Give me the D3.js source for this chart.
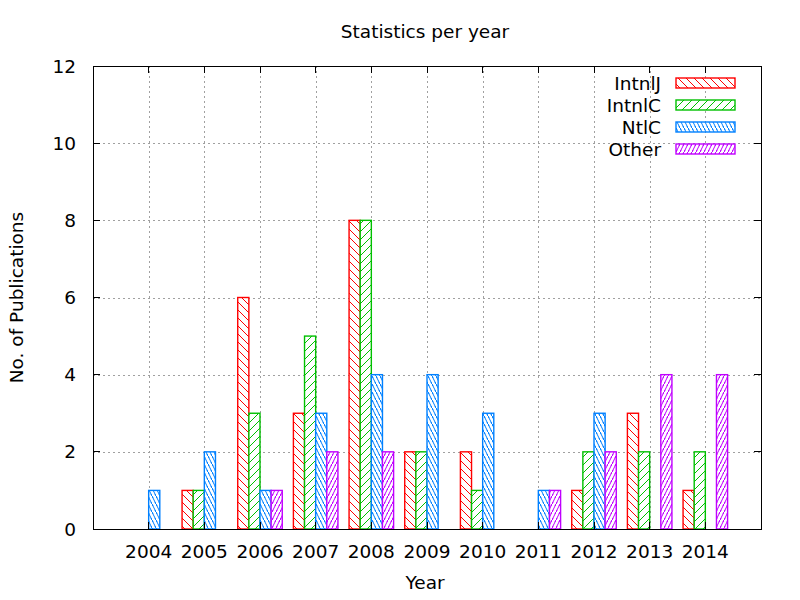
<!DOCTYPE html>
<html>
<head>
<meta charset="utf-8">
<script src="https://cdn.jsdelivr.net/npm/d3@7"></script>
<style>
  body { margin: 0; background: #fff; }
  text { font-family: "DejaVu Sans", sans-serif; fill: #000; font-size: 18.5px; }
</style>
</head>
<body>
<div id="chart"></div>
<script>
// data
const years   = ["2004","2005","2006","2007","2008","2009","2010","2011","2012","2013","2014"];
const series  = ["IntnlJ","IntnlC","NtlC","Other"];
const intnlJ  = [0, 1, 6, 3, 8, 2, 2, 0, 1, 3, 1];
const intnlC  = [0, 1, 3, 5, 8, 2, 1, 0, 2, 2, 2];
const ntlC    = [1, 2, 1, 3, 4, 4, 3, 1, 3, 0, 0];
const other   = [0, 0, 1, 2, 2, 0, 0, 1, 2, 4, 4];
const yTicks  = [0, 2, 4, 6, 8, 10, 12];

const values = [intnlJ, intnlC, ntlC, other];
const colors = ["#ff0000", "#00c000", "#0080ff", "#c000ff"];

const W = 800, H = 600;
const plot = { left: 93, right: 761, top: 66, bottom: 529 };
const tick = 7;
const barW = 0.2;   // 4 bars + gap of 1 bar per cluster

const svg = d3.select("#chart").append("svg")
  .attr("width", W).attr("height", H);

// hatch patterns like gnuplot's fill patterns
const defs = svg.append("defs");
const pats = [
  { w: 8, h: 8, d: "M0,0L8,8M-2,6L2,10M6,-2L10,2" },     // \ 45deg
  { w: 8, h: 8, d: "M0,8L8,0M-2,2L2,-2M6,10L10,6" },     // / 45deg
  { w: 4, h: 8, d: "M0,0L4,8M-1,-2L1,2M3,6L5,10" },      // \ steep
  { w: 4, h: 8, d: "M0,8L4,0M-1,10L1,6M3,2L5,-2" }       // / steep
];
pats.forEach((p, i) => {
  const pat = defs.append("pattern")
    .attr("id", `hatch${i}`)
    .attr("patternUnits", "userSpaceOnUse")
    .attr("width", p.w).attr("height", p.h);
  pat.append("rect").attr("width", p.w).attr("height", p.h).attr("fill", "#fff");
  pat.append("path").attr("d", p.d)
    .attr("stroke", colors[i]).attr("stroke-width", 1).attr("fill", "none");
});

// scales
const x = d3.scaleLinear().domain([-1, 11]).range([plot.left, plot.right]);
const y = d3.scaleLinear().domain([0, 12]).range([plot.bottom, plot.top]);
const xIdx = d3.range(years.length);

// grid
const grid = svg.append("g")
  .attr("stroke", "#a0a0a0").attr("stroke-dasharray", "2,3").attr("stroke-width", 1);
yTicks.filter(t => t > 0 && t < 12).forEach(t => {
  grid.append("line")
    .attr("x1", plot.left).attr("x2", plot.right)
    .attr("y1", Math.round(y(t)) + 0.5).attr("y2", Math.round(y(t)) + 0.5);
});
xIdx.forEach(i => {
  grid.append("line")
    .attr("x1", Math.round(x(i)) + 0.5).attr("x2", Math.round(x(i)) + 0.5)
    .attr("y1", plot.top).attr("y2", plot.bottom);
});

// bars
values.forEach((vals, k) => {
  svg.append("g").selectAll("rect")
    .data(vals.map((v, i) => ({ v, i })).filter(d => d.v > 0))
    .join("rect")
      .attr("x", d => x(d.i + (k - 2) * barW))
      .attr("width", x(barW) - x(0))
      .attr("y", d => y(d.v))
      .attr("height", d => y(0) - y(d.v))
      .attr("fill", `url(#hatch${k})`)
      .attr("stroke", colors[k])
      .attr("stroke-width", 1.4);
});

// border + ticks
const ax = svg.append("g").attr("stroke", "#000").attr("stroke-width", 1)
  .attr("shape-rendering", "crispEdges");
ax.append("rect")
  .attr("x", plot.left).attr("y", plot.top)
  .attr("width", plot.right - plot.left).attr("height", plot.bottom - plot.top)
  .attr("fill", "none");
yTicks.forEach(t => {
  ax.append("line").attr("x1", plot.left).attr("x2", plot.left + tick)
    .attr("y1", y(t)).attr("y2", y(t));
  ax.append("line").attr("x1", plot.right).attr("x2", plot.right - tick)
    .attr("y1", y(t)).attr("y2", y(t));
});
xIdx.forEach(i => {
  ax.append("line").attr("x1", x(i)).attr("x2", x(i))
    .attr("y1", plot.bottom).attr("y2", plot.bottom - tick);
  ax.append("line").attr("x1", x(i)).attr("x2", x(i))
    .attr("y1", plot.top).attr("y2", plot.top + tick);
});

// tick labels
svg.append("g").selectAll("text")
  .data(yTicks).join("text")
    .attr("x", plot.left - 17).attr("y", d => y(d))
    .attr("dy", "0.36em")
    .attr("text-anchor", "end")
    .text(d => d);

svg.append("g").selectAll("text")
  .data(years).join("text")
    .attr("x", (d, i) => x(i)).attr("y", 558)
    .attr("text-anchor", "middle")
    .text(d => d);

// titles
svg.append("text")
  .attr("x", 425).attr("y", 38)
  .attr("text-anchor", "middle")
  .text("Statistics per year");

svg.append("text")
  .attr("x", 425).attr("y", 589)
  .attr("text-anchor", "middle")
  .text("Year");

svg.append("text")
  .attr("transform", `translate(23,${(plot.top + plot.bottom) / 2}) rotate(-90)`)
  .attr("text-anchor", "middle")
  .text("No. of Publications");

// legend
const leg = svg.append("g");
series.forEach((name, k) => {
  const cy = 83 + 22 * k;
  leg.append("text")
    .attr("x", 661).attr("y", cy).attr("dy", "0.36em")
    .attr("text-anchor", "end")
    .text(name);
  leg.append("rect")
    .attr("x", 676).attr("y", cy - 5)
    .attr("width", 59).attr("height", 10)
    .attr("fill", `url(#hatch${k})`)
    .attr("stroke", colors[k]).attr("stroke-width", 1.4);
});
</script>
</body>
</html>
